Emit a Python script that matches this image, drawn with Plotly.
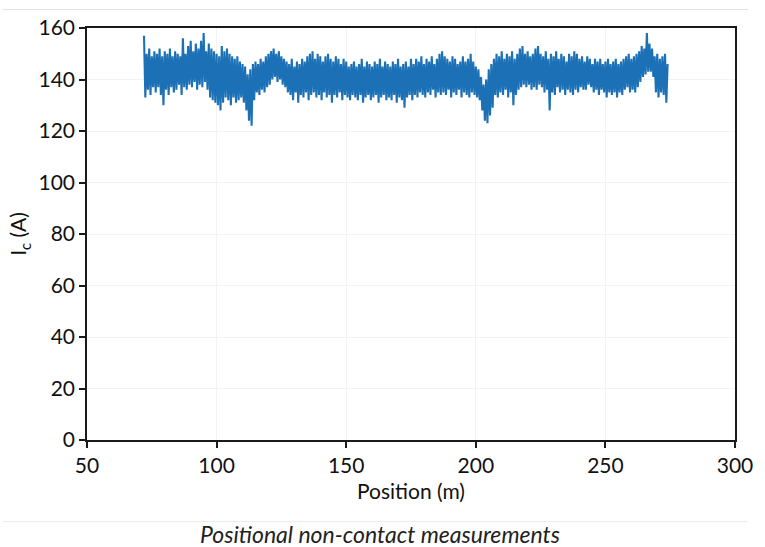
import numpy as np
import plotly.graph_objects as go

# Position sampling (m): start, step
pos_start = 72.0
pos_step = 0.5

# Critical current readings (A), every 0.5 m
ic = [
    157, 133, 150, 136, 152, 134, 149, 137, 151, 135,
    150, 137, 152, 134, 149, 130, 151, 136, 150, 134,
    152, 137, 149, 135, 151, 136, 150, 138, 149, 134,
    156, 137, 150, 136, 153, 138, 155, 137, 151, 139,
    154, 136, 152, 138, 155, 137, 158, 139, 151, 136,
    154, 133, 152, 132, 151, 131, 150, 130, 149, 128,
    153, 131, 151, 133, 152, 132, 150, 130, 149, 133,
    148, 131, 149, 132, 147, 133, 146, 131, 145, 128,
    142, 124, 144, 122, 146, 132, 147, 135, 146, 134,
    148, 136, 147, 135, 149, 137, 150, 138, 151, 140,
    152, 141, 150, 139, 151, 140, 149, 138, 148, 137,
    147, 135, 146, 134, 148, 132, 145, 135, 147, 131,
    146, 134, 148, 133, 147, 135, 149, 132, 150, 134,
    151, 135, 148, 133, 150, 134, 149, 132, 147, 135,
    149, 133, 150, 134, 148, 131, 147, 134, 149, 133,
    148, 135, 146, 132, 148, 134, 147, 133, 145, 132,
    146, 134, 147, 133, 145, 132, 146, 134, 148, 131,
    145, 133, 147, 134, 146, 132, 145, 133, 147, 134,
    146, 131, 148, 133, 145, 134, 147, 132, 146, 133,
    145, 132, 147, 134, 146, 131, 148, 133, 145, 132,
    146, 129, 147, 133, 145, 134, 148, 132, 146, 134,
    148, 133, 147, 135, 149, 134, 146, 133, 148, 135,
    147, 134, 149, 136, 146, 133, 148, 135, 150, 134,
    151, 135, 149, 134, 148, 136, 147, 133, 149, 135,
    148, 134, 146, 136, 147, 133, 149, 135, 147, 134,
    148, 133, 150, 135, 147, 134, 145, 133, 144, 132,
    141, 128, 138, 124, 140, 123, 144, 126, 146, 129,
    148, 134, 150, 133, 149, 135, 151, 134, 148, 136,
    150, 133, 149, 135, 151, 130, 148, 134, 150, 136,
    152, 137, 153, 138, 150, 137, 151, 138, 149, 136,
    150, 137, 152, 136, 153, 138, 150, 137, 149, 135,
    151, 136, 148, 128, 150, 135, 149, 134, 151, 137,
    148, 135, 150, 136, 149, 134, 147, 136, 150, 135,
    149, 134, 151, 136, 150, 135, 148, 137, 149, 136,
    147, 136, 149, 138, 148, 137, 146, 135, 148, 136,
    147, 134, 148, 136, 146, 135, 147, 133, 148, 135,
    146, 134, 147, 135, 148, 133, 146, 135, 147, 134,
    148, 136, 149, 137, 150, 135, 148, 136, 149, 135,
    150, 137, 151, 139, 153, 141, 152, 142, 158, 143,
    154, 143, 152, 141, 149, 135, 150, 133, 148, 135,
    149, 134, 150, 131, 146,
]

x_ticks = [50, 100, 150, 200, 250, 300]
y_ticks = [0, 20, 40, 60, 80, 100, 120, 140, 160]

positions = pos_start + pos_step * np.arange(len(ic))

FONT = "Lato"
FS = 21
fig = go.Figure()
fig.add_trace(go.Scatter(
    x=positions, y=ic, mode="lines",
    line=dict(color="#1C71B6", width=2.1),
    showlegend=False, hoverinfo="skip",
))

axis_common = dict(
    showline=True, linecolor="#1a1a1a", linewidth=1.5, mirror=True,
    ticks="outside", ticklen=6, tickcolor="#1a1a1a", tickwidth=1.5,
    showgrid=True, gridcolor="#f3f3f3", zeroline=False,
    tickfont=dict(family=FONT, size=FS, color="#111111"),
)

fig.update_layout(
    width=765, height=547,
    margin=dict(l=87, r=23, t=28, b=107),
    paper_bgcolor="white", plot_bgcolor="white",
    font=dict(family=FONT, color="#111111"),
    xaxis=dict(range=[50, 300], tickvals=x_ticks, ticktext=[str(v) for v in x_ticks],
               title=dict(text="Position (m)", font=dict(family=FONT, size=FS), standoff=8),
               **axis_common),
    yaxis=dict(range=[0, 160], tickvals=y_ticks, ticktext=[str(v) for v in y_ticks],
               title=dict(text="I<sub>c</sub> (A)", font=dict(family=FONT, size=FS), standoff=6),
               **axis_common),
)

fig.add_annotation(
    text="<i>Positional non-contact measurements</i>",
    xref="paper", yref="paper", x=0.452, y=-0.229,
    xanchor="center", yanchor="middle", showarrow=False,
    font=dict(family=FONT, size=23, color="#222222"),
)

# faint scan lines at top and bottom of the figure
fig.add_shape(type="line", xref="paper", yref="paper", x0=-0.13, x1=1.02,
              y0=1.045, y1=1.045, line=dict(color="#e2e2e2", width=1))
fig.add_shape(type="line", xref="paper", yref="paper", x0=-0.13, x1=1.02,
              y0=-0.198, y1=-0.198, line=dict(color="#ececec", width=1))

fig.write_html("out.html")
